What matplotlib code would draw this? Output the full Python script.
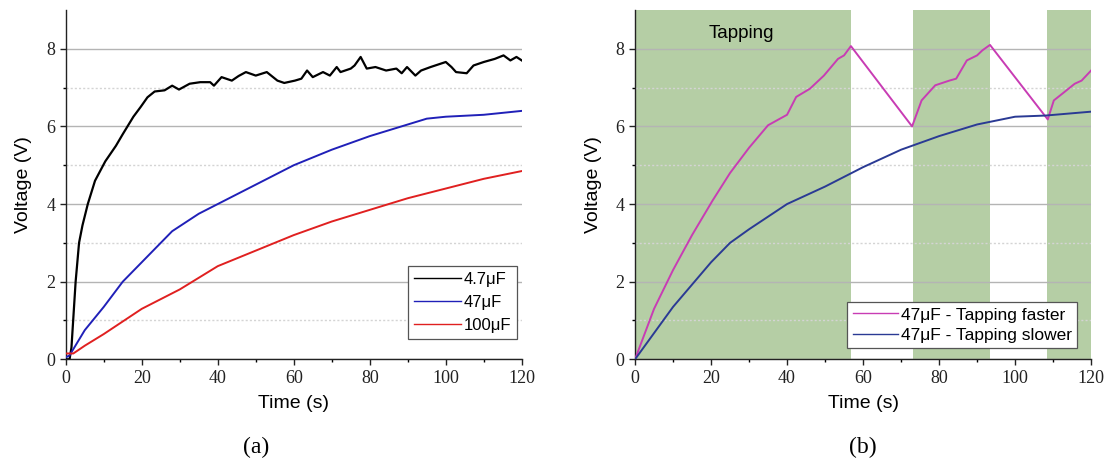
import matplotlib
matplotlib.use("Agg")
import matplotlib.pyplot as plt
from matplotlib.ticker import MultipleLocator, FixedLocator

# (a) 容量ごとの充電電圧
t_c47 = [0, 1, 1.5, 2.6, 3.5, 4.4, 5.8, 7.7, 10.4, 13.2,
         15, 17.8, 19.7, 21.5, 23.4, 26, 28, 29.8, 32.6, 35.4,
         38, 39, 41, 43.7, 45.5, 47.4, 50, 52.9, 55.7, 57.5,
         60.3, 62, 63.5, 65, 67.7, 69.5, 71.3, 72.3, 75, 76,
         77.6, 79.2, 81.5, 84.3, 87, 88.4, 89.8, 92, 93.5, 96,
         100, 101.5, 102.7, 105.5, 107.3, 110, 112.9, 115.2, 117, 118.6,
         120]
v_c47 = [0, 0, 0.3, 2.0, 3.0, 3.45, 4.0, 4.6, 5.1, 5.5,
         5.8, 6.25, 6.5, 6.75, 6.9, 6.93, 7.05, 6.95, 7.1, 7.14,
         7.14, 7.05, 7.27, 7.18, 7.3, 7.4, 7.31, 7.4, 7.18, 7.12,
         7.18, 7.23, 7.44, 7.27, 7.4, 7.31, 7.53, 7.4, 7.49, 7.57,
         7.79, 7.49, 7.53, 7.44, 7.49, 7.37, 7.53, 7.31, 7.44, 7.53,
         7.66, 7.53, 7.4, 7.37, 7.57, 7.66, 7.74, 7.83, 7.7, 7.79,
         7.7]

t_c470 = [0, 1, 5, 10, 15, 20, 25, 28, 35, 40, 50, 60, 70, 80, 90, 95, 100, 110, 120]
v_c470 = [0.05, 0.1, 0.75, 1.35, 2.0, 2.5, 3.0, 3.3, 3.75, 4.0, 4.5, 5.0, 5.4, 5.75,
          6.05, 6.2, 6.25, 6.3, 6.4]

t_c100 = [0, 2, 5, 10, 20, 30, 40, 50, 60, 70, 80, 90, 100, 110, 120]
v_c100 = [0.15, 0.15, 0.35, 0.65, 1.3, 1.8, 2.4, 2.8, 3.2, 3.55, 3.85, 4.15, 4.4, 4.65, 4.85]

# (b) タッピング速度の違い（47μF）
t_fast = [0, 5, 10, 15, 20.4, 25, 30, 35, 40, 42.4, 46, 49.7, 53.4, 55, 56.8,
          72.9, 75.4, 79, 82.7, 84.5, 87.3, 90, 91.4, 93.4,
          108.6, 110.2, 112.9, 115.7, 117.5, 120]
v_fast = [0, 1.3, 2.3, 3.2, 4.09, 4.8, 5.45, 6.03, 6.3, 6.76, 6.97, 7.31, 7.74, 7.83, 8.07,
          6.0, 6.67, 7.06, 7.18, 7.23, 7.7, 7.83, 7.96, 8.1,
          6.18, 6.67, 6.88, 7.1, 7.18, 7.44]

t_slow = [0, 10, 20, 25, 30, 40, 50, 57, 60, 70, 80, 90, 100, 108, 120]
v_slow = [0, 1.35, 2.5, 3.0, 3.35, 4.0, 4.45, 4.8, 4.95, 5.4, 5.75, 6.05, 6.25, 6.28, 6.38]

tap_start = [0, 73.1, 108.3]
tap_end = [56.8, 93.4, 120]

SANS = "Liberation Sans"
SERIF = "Liberation Serif"

fig = plt.figure(figsize=(11.05, 4.62), dpi=100)
ax_a = fig.add_axes([0.0595, 0.2223, 0.4127, 0.7561])
ax_b = fig.add_axes([0.5747, 0.2223, 0.4127, 0.7561])


def style(ax):
    ax.set_xlim(0, 120)
    ax.set_ylim(0, 9)
    ax.xaxis.set_major_locator(MultipleLocator(20))
    ax.xaxis.set_minor_locator(MultipleLocator(10))
    ax.yaxis.set_major_locator(FixedLocator([0, 2, 4, 6, 8]))
    ax.yaxis.set_minor_locator(FixedLocator([1, 3, 5, 7]))
    ax.grid(True, which="major", axis="y", color="#b4b4b4", linewidth=1.0, zorder=1)
    ax.grid(True, which="minor", axis="y", color="#d4d4d4", linewidth=1.0,
            linestyle=(0, (1.5, 1.5)), zorder=1)
    ax.set_axisbelow(True)
    for s in ("top", "right"):
        ax.spines[s].set_visible(False)
    for s in ("left", "bottom"):
        ax.spines[s].set_color("#222222")
        ax.spines[s].set_linewidth(1.0)
    ax.tick_params(which="major", direction="out", length=4, width=1.0,
                   labelsize=13, colors="#222222")
    ax.tick_params(which="minor", direction="out", length=2, width=1.0)
    for lab in ax.get_xticklabels() + ax.get_yticklabels():
        lab.set_fontfamily(SERIF)
    ax.set_xlabel("Time (s)", fontsize=14, family=SANS, labelpad=6)
    ax.set_ylabel("Voltage (V)", fontsize=14, family=SANS, labelpad=10)


# ---- (a) ----
style(ax_a)
ax_a.plot(t_c47, v_c47, color="black", linewidth=1.6, label="4.7μF", zorder=3)
ax_a.plot(t_c470, v_c470, color="#2020b8", linewidth=1.4, label="47μF", zorder=3)
ax_a.plot(t_c100, v_c100, color="#e02020", linewidth=1.4, label="100μF", zorder=3)
leg = ax_a.legend(loc="lower right", bbox_to_anchor=(0.99, 0.058),
                  prop={"family": SANS, "size": 12}, frameon=True, fancybox=False,
                  framealpha=1, edgecolor="#555555", handlelength=2.8,
                  handletextpad=0.2, borderpad=0.35, labelspacing=0.5,
                  borderaxespad=0)
leg.get_frame().set_linewidth(0.9)
for h in leg.get_lines():
    h.set_linewidth(1.0)

# ---- (b) ----
style(ax_b)
for a, b in zip(tap_start, tap_end):
    ax_b.axvspan(a, b, color="#b5cea5", linewidth=0, zorder=0)
ax_b.plot(t_fast, v_fast, color="#c83cb4", linewidth=1.4,
          label="47μF - Tapping faster", zorder=3)
ax_b.plot(t_slow, v_slow, color="#2a3a94", linewidth=1.4,
          label="47μF - Tapping slower", zorder=3)
ax_b.text(19.4, 8.4, "Tapping", family=SANS, fontsize=13.5, va="center", ha="left")
leg = ax_b.legend(loc="lower right", bbox_to_anchor=(0.97, 0.032),
                  prop={"family": SANS, "size": 12.5}, frameon=True, fancybox=False,
                  framealpha=1, edgecolor="#555555", handlelength=2.6,
                  handletextpad=0.2, borderpad=0.3, labelspacing=0.3,
                  borderaxespad=0)
leg.get_frame().set_linewidth(0.9)
for h in leg.get_lines():
    h.set_linewidth(1.0)

fig.text(0.2322, 0.032, "(a)", family=SERIF, fontsize=17, ha="center", va="center")
fig.text(0.7810, 0.032, "(b)", family=SERIF, fontsize=17, ha="center", va="center")

fig.savefig("out.png", dpi=100)
